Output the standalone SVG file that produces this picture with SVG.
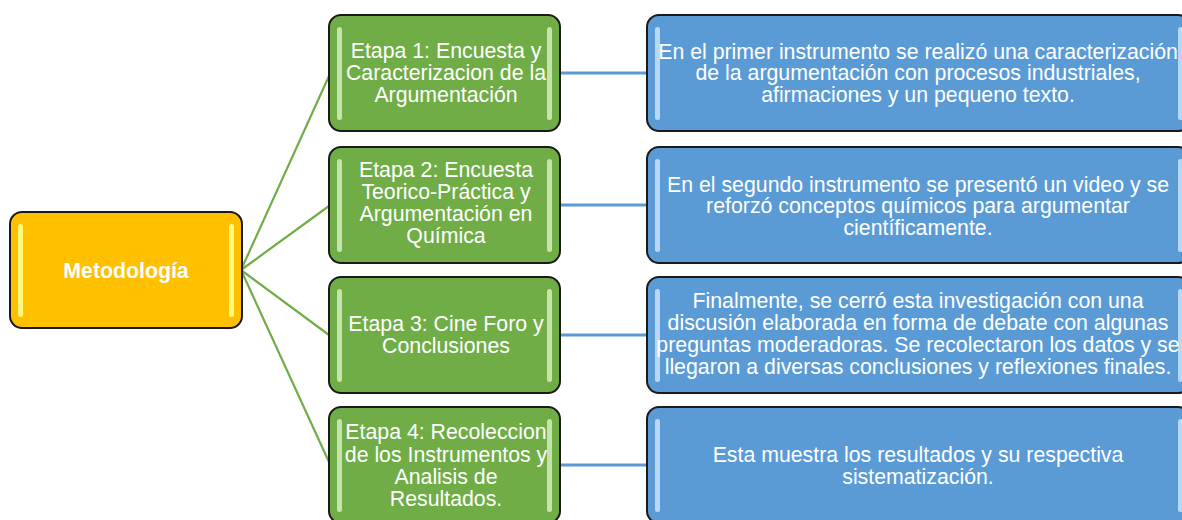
<svg xmlns="http://www.w3.org/2000/svg" width="1182" height="520" viewBox="0 0 1182 520">
<defs>
<style>
.box{stroke:#1a1a1a;stroke-width:2}
.y{fill:#FFC000}
.g{fill:#70AD47}
.b{fill:#5B9BD5}
.hy{fill:#FFFF8A;opacity:0.9}
.hg{fill:#D4EDBF;opacity:0.85}
.hb{fill:#C9E2F7;opacity:0.85}
.t{font-family:"Liberation Sans",Arial,sans-serif;font-size:21.3px;fill:#ffffff;text-anchor:middle}
.tb{font-weight:bold}
.cg{stroke:#70AD47;stroke-width:2.2;fill:none}
.cb{stroke:#5B9BD5;stroke-width:3;fill:none}
</style>
</defs>
<g id="connectors">
<line class="cg" x1="241" y1="270" x2="329" y2="76"/>
<line class="cg" x1="241" y1="270" x2="329" y2="206"/>
<line class="cg" x1="241" y1="270" x2="329" y2="335"/>
<line class="cg" x1="241" y1="270" x2="329" y2="462"/>
<line class="cb" x1="560" y1="73" x2="647" y2="73"/>
<line class="cb" x1="560" y1="205" x2="647" y2="205"/>
<line class="cb" x1="560" y1="335" x2="647" y2="335"/>
<line class="cb" x1="560" y1="465" x2="647" y2="465"/>
</g>
<g id="metodologia">
<rect class="box y" x="10" y="212" width="232" height="116" rx="12"/>
<rect class="hy" x="18" y="224" width="5" height="93" rx="2.5"/>
<rect class="hy" x="229" y="224" width="5" height="93" rx="2.5"/>
<text class="t tb" x="126" y="278">Metodología</text>
</g>
<g id="etapa1">
<rect class="box g" x="329" y="15" width="231" height="116" rx="12"/>
<rect class="hg" x="337" y="27" width="5" height="93" rx="2.5"/>
<rect class="hg" x="547" y="27" width="5" height="93" rx="2.5"/>
<text class="t" x="446" y="58">Etapa 1: Encuesta y</text>
<text class="t" x="446" y="80">Caracterizacion de la</text>
<text class="t" x="446" y="102">Argumentación</text>
</g>
<g id="etapa2">
<rect class="box g" x="329" y="147" width="231" height="116" rx="12"/>
<rect class="hg" x="337" y="159" width="5" height="93" rx="2.5"/>
<rect class="hg" x="547" y="159" width="5" height="93" rx="2.5"/>
<text class="t" x="446" y="177">Etapa 2: Encuesta</text>
<text class="t" x="446" y="199">Teorico-Práctica y</text>
<text class="t" x="446" y="221">Argumentación en</text>
<text class="t" x="446" y="243">Química</text>
</g>
<g id="etapa3">
<rect class="box g" x="329" y="277" width="231" height="116" rx="12"/>
<rect class="hg" x="337" y="289" width="5" height="93" rx="2.5"/>
<rect class="hg" x="547" y="289" width="5" height="93" rx="2.5"/>
<text class="t" x="446" y="331">Etapa 3: Cine Foro y</text>
<text class="t" x="446" y="353">Conclusiones</text>
</g>
<g id="etapa4">
<rect class="box g" x="329" y="407" width="231" height="116" rx="12"/>
<rect class="hg" x="337" y="419" width="5" height="93" rx="2.5"/>
<rect class="hg" x="547" y="419" width="5" height="93" rx="2.5"/>
<text class="t" x="446" y="439">Etapa 4: Recoleccion</text>
<text class="t" x="446" y="462">de los Instrumentos y</text>
<text class="t" x="446" y="484">Analisis de</text>
<text class="t" x="446" y="506">Resultados.</text>
</g>
<g id="desc1">
<rect class="box b" x="647" y="15" width="543" height="116" rx="12"/>
<rect class="hb" x="655" y="27" width="5" height="93" rx="2.5"/>
<rect class="hb" x="1178" y="27" width="5" height="93" rx="2.5"/>
<text class="t" x="918" y="59">En el primer instrumento se realizó una caracterización</text>
<text class="t" x="918" y="80">de la argumentación con procesos industriales,</text>
<text class="t" x="918" y="102">afirmaciones y un pequeno texto.</text>
</g>
<g id="desc2">
<rect class="box b" x="647" y="147" width="543" height="116" rx="12"/>
<rect class="hb" x="655" y="159" width="5" height="93" rx="2.5"/>
<rect class="hb" x="1178" y="159" width="5" height="93" rx="2.5"/>
<text class="t" x="918" y="192">En el segundo instrumento se presentó un video y se</text>
<text class="t" x="918" y="213">reforzó conceptos químicos para argumentar</text>
<text class="t" x="918" y="235">científicamente.</text>
</g>
<g id="desc3">
<rect class="box b" x="647" y="277" width="543" height="116" rx="12"/>
<rect class="hb" x="655" y="289" width="5" height="93" rx="2.5"/>
<rect class="hb" x="1178" y="289" width="5" height="93" rx="2.5"/>
<text class="t" x="918" y="308">Finalmente, se cerró esta investigación con una</text>
<text class="t" x="918" y="330">discusión elaborada en forma de debate con algunas</text>
<text class="t" x="918" y="352">preguntas moderadoras. Se recolectaron los datos y se</text>
<text class="t" x="918" y="374">llegaron a diversas conclusiones y reflexiones finales.</text>
</g>
<g id="desc4">
<rect class="box b" x="647" y="407" width="543" height="116" rx="12"/>
<rect class="hb" x="655" y="419" width="5" height="93" rx="2.5"/>
<rect class="hb" x="1178" y="419" width="5" height="93" rx="2.5"/>
<text class="t" x="918" y="462">Esta muestra los resultados y su respectiva</text>
<text class="t" x="918" y="484">sistematización.</text>
</g>
</svg>
